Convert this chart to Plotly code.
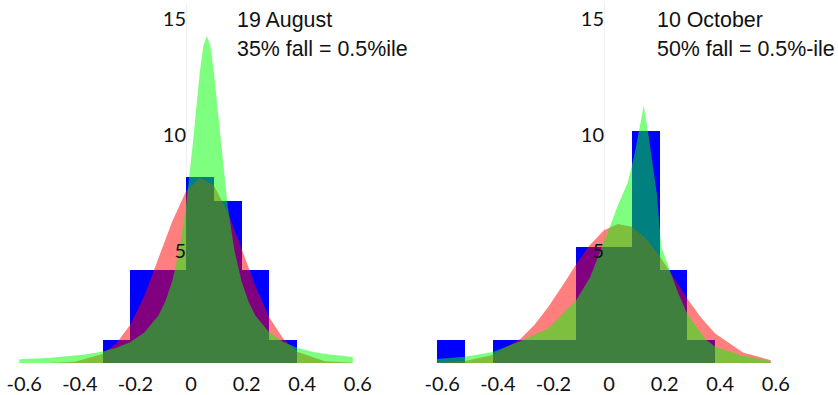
import plotly.graph_objects as go

# ---------------- data ----------------
bin_width = 0.1
aug_bin_centers = [-0.25, -0.15, -0.05, 0.05, 0.15, 0.25, 0.35]
aug_counts = [1, 4, 4, 8, 7, 4, 1]

oct_bin_centers = [-0.55, -0.45, -0.35, -0.25, -0.15, -0.05, 0.05, 0.15, 0.25, 0.35]
oct_counts = [1, 0, 1, 1, 1, 5, 5, 10, 4, 1]

# normal (red) curves
aug_red_x = [-0.6, -0.5, -0.4, -0.3, -0.25, -0.2, -0.15, -0.1, -0.05, 0.0, 0.05, 0.1, 0.15, 0.2, 0.25, 0.3, 0.35, 0.4, 0.5, 0.6]
aug_red_y = [0.0, 0.005, 0.055, 0.39, 0.85, 1.66, 2.89, 4.45, 6.09, 7.40, 7.99, 7.66, 6.51, 4.92, 3.30, 1.96, 1.04, 0.49, 0.075, 0.007]

oct_red_x = [-0.6, -0.5, -0.4, -0.3, -0.25, -0.2, -0.15, -0.1, -0.05, 0.0, 0.05, 0.1, 0.15, 0.2, 0.25, 0.3, 0.35, 0.4, 0.5, 0.6]
oct_red_y = [0.017, 0.089, 0.35, 1.05, 1.65, 2.42, 3.32, 4.26, 5.10, 5.72, 5.99, 5.87, 5.38, 4.61, 3.70, 2.77, 1.94, 1.27, 0.45, 0.12]

# fat-tailed (green) curves
aug_green_x = [-0.6, -0.5, -0.4, -0.35, -0.3, -0.25, -0.2, -0.15, -0.1, -0.075, -0.05, -0.025, 0.0, 0.025, 0.05, 0.0625,
               0.075, 0.0875, 0.1, 0.125, 0.15, 0.175, 0.2, 0.225, 0.25, 0.3, 0.35, 0.4, 0.45, 0.5, 0.55, 0.6]
aug_green_y = [0.16, 0.22, 0.32, 0.39, 0.50, 0.66, 0.90, 1.31, 2.04, 2.64, 3.51, 4.81, 6.76, 9.51, 12.58, 13.69,
               14.1, 13.69, 12.58, 9.51, 6.76, 4.81, 3.51, 2.64, 2.04, 1.31, 0.90, 0.66, 0.50, 0.39, 0.32, 0.26]

oct_green_x = [-0.6, -0.5, -0.4, -0.3, -0.2, -0.1, -0.05, 0.0, 0.025, 0.05, 0.086, 0.11, 0.127, 0.143,
               0.158, 0.175, 0.19, 0.206, 0.236, 0.264, 0.3, 0.337, 0.367, 0.4, 0.49, 0.6]
oct_green_y = [0.17, 0.27, 0.47, 0.95, 1.5, 2.7, 3.7, 5.2, 6.0, 6.8, 7.8, 9.0, 10.0, 11.1,
               10.0, 8.6, 7.3, 5.0, 4.0, 3.1, 2.1, 1.5, 1.0, 0.7, 0.34, 0.08]

x_ticks = [-0.6, -0.4, -0.2, 0, 0.2, 0.4, 0.6]
x_tick_labels = ["-0.6", "-0.4", "-0.2", "0", "0.2", "0.4", "0.6"]
y_ticks = [5, 10, 15]
y_tick_labels = ["5", "10", "15"]

titles = [("19 August", "35% fall = 0.5%ile"), ("10 October", "50% fall = 0.5%-ile")]

# ---------------- styling ----------------
W, H = 838, 395
BLUE = "#0000ff"
RED = "rgba(255,0,0,0.5)"
GREEN = "rgba(0,255,0,0.5)"
TICK_FONT = dict(family="Lato", size=20, color="#111111")
TITLE_FONT = dict(family="Liberation Sans", size=21.4, color="#111111")

fig = go.Figure()

panels = [
    dict(xa="x", ya="y", centers=aug_bin_centers, counts=aug_counts,
         rx=aug_red_x, ry=aug_red_y, gx=aug_green_x, gy=aug_green_y),
    dict(xa="x2", ya="y2", centers=oct_bin_centers, counts=oct_counts,
         rx=oct_red_x, ry=oct_red_y, gx=oct_green_x, gy=oct_green_y),
]

for p in panels:
    fig.add_trace(go.Bar(x=p["centers"], y=p["counts"], width=bin_width,
                         marker=dict(color=BLUE, line=dict(width=0)),
                         xaxis=p["xa"], yaxis=p["ya"], showlegend=False, hoverinfo="skip"))
    fig.add_trace(go.Scatter(x=p["rx"], y=p["ry"], mode="lines", fill="tozeroy",
                             fillcolor=RED, line=dict(width=0, color=RED),
                             xaxis=p["xa"], yaxis=p["ya"], showlegend=False, hoverinfo="skip"))
    fig.add_trace(go.Scatter(x=p["gx"], y=p["gy"], mode="lines", fill="tozeroy",
                             fillcolor=GREEN, line=dict(width=0, color=GREEN),
                             xaxis=p["xa"], yaxis=p["ya"], showlegend=False, hoverinfo="skip"))

# pixel geometry
px_per_unit = 278.0
x_range = [-0.64, 0.66]
zero_px = [186.0, 604.0]
plot_top, plot_bottom = 3.0, 363.0
y_range = [0, (plot_bottom - plot_top) / 23.2]


def dom(z):
    left = z + x_range[0] * px_per_unit
    right = z + x_range[1] * px_per_unit
    return [left / W, right / W]


axis_common = dict(range=x_range, tickmode="array", tickvals=x_ticks, ticktext=x_tick_labels,
                   showgrid=False, showline=False, ticks="", zeroline=True, zerolinecolor="#f0f0f0",
                   zerolinewidth=1, tickfont=TICK_FONT, ticklabelstandoff=7, ticklabelshift=5,
                   fixedrange=True, automargin=False)
yaxis_common = dict(range=y_range, tickmode="array", tickvals=y_ticks, ticktext=y_tick_labels,
                    showgrid=False, showline=False, ticks="", zeroline=False, tickfont=TICK_FONT,
                    ticklabelshift=4, ticklabeloverflow="allow", fixedrange=True, anchor="free",
                    automargin=False)

fig.update_layout(
    width=W, height=H,
    margin=dict(l=0, r=0, t=plot_top, b=H - plot_bottom, autoexpand=False),
    paper_bgcolor="white", plot_bgcolor="rgba(0,0,0,0)",
    barmode="overlay", bargap=0,
    xaxis=dict(domain=dom(zero_px[0]), anchor="y", **axis_common),
    xaxis2=dict(domain=dom(zero_px[1]), anchor="y2", **axis_common),
    yaxis=dict(domain=[0, 1], position=zero_px[0] / W, **yaxis_common),
    yaxis2=dict(domain=[0, 1], position=zero_px[1] / W, **yaxis_common),
)

paper_h = plot_bottom - plot_top
title_left_px = [235, 655]
line_y_px = [20, 49]
for (l1, l2), xl in zip(titles, title_left_px):
    for txt, yp in zip((l1, l2), line_y_px):
        fig.add_annotation(text=txt, xref="paper", yref="paper",
                           x=xl / W, y=(plot_bottom - yp) / paper_h,
                           xanchor="left", yanchor="middle", showarrow=False,
                           font=TITLE_FONT)

fig.write_html("out.html", config={"displayModeBar": False, "staticPlot": True},
               post_script="document.body.style.margin='0px';document.body.style.overflow='hidden';")
